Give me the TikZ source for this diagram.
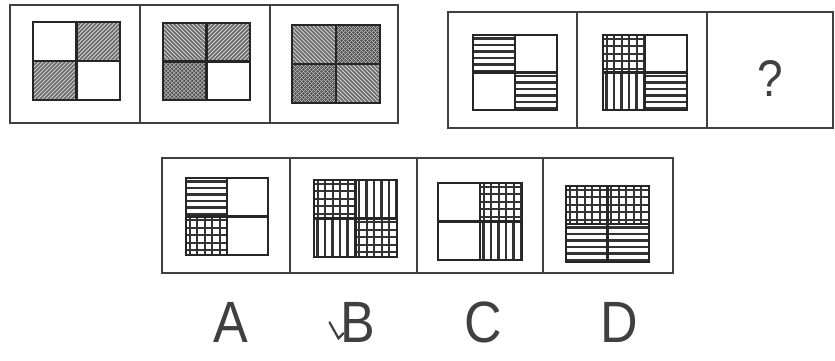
\documentclass[tikz,border=0pt]{standalone}
\usepackage{fontspec}
\setmainfont{Liberation Sans}
\usetikzlibrary{calc,positioning}

% one framed square split in four quadrants
% #1 top left corner, #2 bottom right corner, #3..#6 fill of TL, TR, BL, BR
\newcommand{\panel}[6]{%
  \coordinate (nw) at (#1);
  \coordinate (se) at (#2);
  \coordinate (ne) at (nw -| se);
  \coordinate (sw) at (nw |- se);
  \coordinate (c) at ($(nw)!0.5!(se)$);
  \path[#3] (nw) rectangle (c);
  \path[#4] (ne) rectangle (c);
  \path[#5] (sw) rectangle (c);
  \path[#6] (se) rectangle (c);
  \draw[square] (nw) rectangle (se) (nw -| c) -- (sw -| c) (nw |- c) -- (ne |- c);
}
\newcommand{\tall}[2]{\scalebox{1}[#1]{#2}}

\begin{document}
\begin{tikzpicture}[x=1pt, y=-1pt,
    frame/.style={draw=black!75, line width=1.6pt},
    square/.style={draw=black!85, line width=2.2pt},
    hlines/.style={path picture={
        \foreach \k in {1,...,7}
          \draw[line width=2.4pt, black!80] ($(path picture bounding box.north west)+(0,\k*6.5-3)$) -- ++(60,0);}},
    vlines/.style={path picture={
        \foreach \k in {1,...,7}
          \draw[line width=2.4pt, black!80] ($(path picture bounding box.north west)+(\k*7.5-4,0)$) -- ++(0,60);}},
    grid/.style={path picture={
        \foreach \k in {1,...,7} {
          \draw[line width=2pt, black!80] ($(path picture bounding box.north west)+(\k*7.5-4,0)$) -- ++(0,60);
          \draw[line width=2pt, black!80] ($(path picture bounding box.north west)+(0,\k*7.5-4)$) -- ++(60,0);}}},
    nelines/.style={fill=black!58, path picture={
        \foreach \k in {-12,...,12}
          \draw[line width=0.9pt, gray!35] ($(path picture bounding box.south west)+(\k*4,0)$) -- ++(50,-50);}},
    nwlines/.style={fill=black!58, path picture={
        \foreach \k in {-12,...,12}
          \draw[line width=0.9pt, gray!35] ($(path picture bounding box.north west)+(\k*4,0)$) -- ++(50,50);}},
    cross/.style={fill=black!68, path picture={
        \foreach \k in {-12,...,12} {
          \draw[line width=0.6pt, gray!55] ($(path picture bounding box.south west)+(\k*4,0)$) -- ++(50,-50);
          \draw[line width=0.6pt, gray!55] ($(path picture bounding box.north west)+(\k*4,0)$) -- ++(50,50);}}},
    letter/.style={text=black!75, font=\fontsize{52}{56}\selectfont, inner sep=0pt}
]
\useasboundingbox (0,0) rectangle (835,360);

% first row, left group
\draw[frame] (10,5) rectangle (398,123) (140,5) -- (140,123) (270,5) -- (270,123);
\panel{33,22}{120,100}{}{nelines}{nelines}{}
\panel{163,23}{250,100}{nwlines}{nelines}{cross}{}
\panel{292,25}{380,103}{nwlines}{cross}{cross}{nwlines}

% first row, right group
\draw[frame] (448,12) rectangle (833,128) (577,12) -- (577,128) (707,12) -- (707,128);
\panel{473,35}{557,110}{hlines}{}{}{hlines}
\panel{603,35}{687,110}{grid}{}{vlines}{hlines}
\node[letter, font=\fontsize{46}{50}\selectfont] (quest) at (770,79) {\tall{1.12}{?}};

% answers
\draw[frame] (162,158) rectangle (673,273) (290,158) -- (290,273) (417,158) -- (417,273) (543,158) -- (543,273);
\panel{186,178}{268,255}{hlines}{}{grid}{}
\panel{314,180}{397,257}{grid}{vlines}{vlines}{grid}
\panel{438,183}{522,260}{}{grid}{}{vlines}
\panel{566,186}{649,262}{grid}{grid}{hlines}{hlines}

\node[letter] (optA) at (231,322) {\tall{1.12}{A}};
\node[letter] (optB) at (358,322) {\tall{1.12}{B}};
\node[letter] (optC) at (483,322) {\tall{1.12}{C}};
\node[letter] (optD) at (619,322) {\tall{1.12}{D}};
% tick mark by hand on B
\draw[black!75, line width=2.2pt, line cap=round] ($(optB.south west)+(-11,-20)$) -- ($(optB.south west)+(-2,-4)$) -- ($(optB.south west)+(3,-9)$);

\end{tikzpicture}
\end{document}
